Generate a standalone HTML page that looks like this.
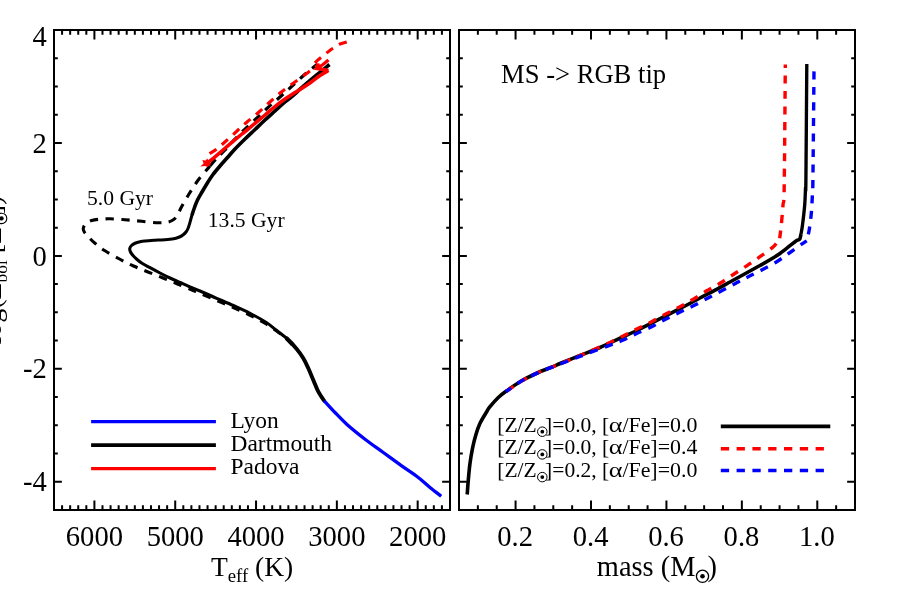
<!DOCTYPE html>
<html lang="en"><head><meta charset="utf-8"><title>Isochrones</title>
<style>html,body{margin:0;padding:0;background:#fff;}body{width:900px;height:600px;overflow:hidden;position:relative;font-family:"Liberation Serif",serif;}</style></head>
<body>
<svg width="900" height="600" viewBox="0 0 900 600" style="position:absolute;left:0;top:0;display:block;will-change:transform" font-family='"Liberation Serif", serif' fill="#000">
<rect x="0" y="0" width="900" height="600" fill="#fff"/>
<g fill="none" stroke-linejoin="round">
<path d="M324.20,400.80 C323.22,399.28 320.12,395.17 318.30,391.70 C316.48,388.23 314.97,383.90 313.30,380.00 C311.63,376.10 309.97,371.92 308.30,368.30 C306.63,364.68 305.23,361.52 303.30,358.30 C301.37,355.08 299.47,352.33 296.70,349.00 C293.93,345.67 290.32,341.60 286.70,338.30" stroke="#000" stroke-width="3.9" stroke-linecap="round"/>
<path d="M286.70,338.30 C283.08,335.00 278.33,331.80 275.00,329.20 C271.67,326.60 270.87,325.35 266.70,322.70 C262.53,320.05 255.57,316.17 250.00,313.30 C244.43,310.43 238.85,308.00 233.30,305.50 C227.75,303.00 222.25,300.72 216.70,298.30 C211.15,295.88 204.45,292.88 200.00,291.00 C195.55,289.12 193.33,288.42 190.00,287.00 C186.67,285.58 183.33,284.00 180.00,282.50 C176.67,281.00 173.33,279.58 170.00,278.00 C166.67,276.42 163.33,274.72 160.00,273.00 C156.67,271.28 153.00,269.32 150.00,267.70 C147.00,266.08 144.25,264.75 142.00,263.30 C139.75,261.85 138.00,260.30 136.50,259.00 C135.00,257.70 134.00,256.67 133.00,255.50 C132.00,254.33 131.04,253.17 130.50,252.00 C129.96,250.83 129.58,249.58 129.75,248.50 C129.92,247.42 130.62,246.38 131.50,245.50 C132.38,244.62 133.58,243.88 135.00,243.25 C136.42,242.62 138.33,242.12 140.00,241.75 C141.67,241.38 142.50,241.25 145.00,241.00 C147.50,240.75 152.50,240.42 155.00,240.25 C157.50,240.08 157.92,240.12 160.00,240.00 C162.08,239.88 165.00,239.75 167.50,239.50 C170.00,239.25 172.92,238.96 175.00,238.50 C177.08,238.04 178.58,237.42 180.00,236.75 C181.42,236.08 182.50,235.29 183.50,234.50 C184.50,233.71 185.25,233.00 186.00,232.00 C186.75,231.00 187.42,229.83 188.00,228.50 C188.58,227.17 189.04,225.50 189.50,224.00 C189.96,222.50 190.33,221.00 190.75,219.50 C191.17,218.00 191.38,217.00 192.00,215.00" stroke="#000" stroke-width="3.05" stroke-linecap="round"/>
<path d="M192.00,215.00 C192.62,213.00 193.58,210.00 194.50,207.50 C195.42,205.00 196.25,202.58 197.50,200.00 C198.75,197.42 200.25,195.00 202.00,192.00 C203.75,189.00 206.17,184.92 208.00,182.00 C209.83,179.08 211.00,177.17 213.00,174.50 C215.00,171.83 217.50,168.92 220.00,166.00 C222.50,163.08 225.50,159.83 228.00,157.00 C230.50,154.17 232.17,152.00 235.00,149.00 C237.83,146.00 241.67,142.25 245.00,139.00 C248.33,135.75 251.67,132.67 255.00,129.50 C258.33,126.33 261.67,123.08 265.00,120.00 C268.33,116.92 271.67,114.00 275.00,111.00 C278.33,108.00 281.67,104.83 285.00,102.00 C288.33,99.17 292.50,96.13 295.00,94.00 C297.50,91.87 296.38,92.37 300.00,89.20 C303.62,86.03 311.78,79.12 316.70,75.00 C321.62,70.88 327.37,66.25 329.50,64.50" stroke="#000" stroke-width="3.6"/>
<path d="M296.70,349.50 C294.47,347.28 288.30,340.40 283.30,336.20 C278.30,332.00 272.25,327.78 266.70,324.30 C261.15,320.82 255.57,318.10 250.00,315.30 C244.43,312.50 238.85,309.98 233.30,307.50 C227.75,305.02 222.25,302.75 216.70,300.40 C211.15,298.05 204.12,295.13 200.00,293.40 C195.88,291.67 195.75,291.57 192.00,290.00 C188.25,288.43 182.33,286.00 177.50,284.00 C172.67,282.00 167.92,280.00 163.00,278.00 C158.08,276.00 152.92,274.00 148.00,272.00 C143.08,270.00 138.25,268.17 133.50,266.00 C128.75,263.83 124.25,261.53 119.50,259.00 C114.75,256.47 109.08,253.42 105.00,250.80 C100.92,248.18 97.78,245.65 95.00,243.30 C92.22,240.95 90.10,238.63 88.30,236.70 C86.50,234.77 85.03,233.10 84.20,231.70 C83.37,230.30 83.03,229.63 83.30,228.30 C83.57,226.97 84.40,225.00 85.80,223.70 C87.20,222.40 89.33,221.25 91.70,220.50 C94.07,219.75 96.95,219.48 100.00,219.20 C103.05,218.92 105.83,218.72 110.00,218.80 C114.17,218.88 119.72,219.28 125.00,219.70 C130.28,220.12 136.15,220.78 141.70,221.30 C147.25,221.82 153.87,222.68 158.30,222.80 C162.73,222.92 165.65,222.60 168.30,222.00 C170.95,221.40 172.53,220.65 174.20,219.20 C175.87,217.75 177.00,215.50 178.30,213.30 C179.60,211.10 180.22,209.22 182.00,206.00 C183.78,202.78 186.42,198.17 189.00,194.00 C191.58,189.83 194.50,185.08 197.50,181.00 C200.50,176.92 204.92,172.00 207.00,169.50 C209.08,167.00 208.53,167.70 210.00,166.00" stroke="#000" stroke-width="3.1" stroke-dasharray="8.4 7.4" stroke-dashoffset="9.2"/>
<path d="M210.00,166.00 C211.47,164.30 213.47,161.80 215.80,159.30 C218.13,156.80 220.97,154.22 224.00,151.00 C227.03,147.78 230.50,143.67 234.00,140.00 C237.50,136.33 241.17,132.67 245.00,129.00 C248.83,125.33 253.17,121.58 257.00,118.00 C260.83,114.42 264.17,111.00 268.00,107.50 C271.83,104.00 276.17,100.42 280.00,97.00 C283.83,93.58 287.17,90.50 291.00,87.00 C294.83,83.50 299.00,79.50 303.00,76.00 C307.00,72.50 312.58,68.00 315.00,66.00 C317.42,64.00 317.08,64.33 317.50,64.00" stroke="#000" stroke-width="3.1" stroke-dasharray="8.6 7.1" stroke-dashoffset="0"/>
<path d="M324.20,400.80 C326.00,402.75 331.25,408.60 335.00,412.50 C338.75,416.40 341.70,419.75 346.70,424.20 C351.70,428.65 358.90,434.48 365.00,439.20 C371.10,443.92 377.18,448.07 383.30,452.50 C389.42,456.93 395.87,461.63 401.70,465.80 C407.53,469.97 413.58,473.88 418.30,477.50 C423.02,481.12 426.18,484.38 430.00,487.50 C433.82,490.62 439.33,494.75 441.20,496.20" stroke="#00f" stroke-width="3.3"/>
<path d="M206.00,164.00 C206.67,163.47 208.50,162.00 210.00,160.80 C211.50,159.60 213.33,158.17 215.00,156.80 C216.67,155.43 218.33,154.03 220.00,152.60 C221.67,151.17 222.92,150.00 225.00,148.20 C227.08,146.40 230.00,143.90 232.50,141.80 C235.00,139.70 237.92,137.28 240.00,135.60 C242.08,133.92 242.50,133.75 245.00,131.70 C247.50,129.65 251.67,126.08 255.00,123.30 C258.33,120.52 261.67,117.80 265.00,115.00 C268.33,112.20 271.67,109.17 275.00,106.50 C278.33,103.83 281.67,101.33 285.00,99.00 C288.33,96.67 290.83,95.17 295.00,92.50 C299.17,89.83 305.83,85.83 310.00,83.00 C314.17,80.17 316.92,77.58 320.00,75.50 C323.08,73.42 327.08,71.33 328.50,70.50" stroke="#f00" stroke-width="3.5"/>
<path d="M328.50,70.50 L317.00,68.50 L323.00,64.50 L328.50,60.00" stroke="#f00" stroke-width="3.3" stroke-linejoin="miter"/>
<path d="M200.3,166.4 L203.6,163.6 L202.4,159.9 L205.6,160.6 L207.3,158.4 L208.6,161.2 L211,163.9 L207.6,167 L205.2,166.1 Z" fill="#f00" stroke="none"/>
<path d="M209.50,153.50 C210.67,152.80 213.75,151.38 216.50,149.30 C219.25,147.22 222.58,144.05 226.00,141.00 C229.42,137.95 233.50,134.17 237.00,131.00 C240.50,127.83 243.33,125.17 247.00,122.00 C250.67,118.83 255.08,115.42 259.00,112.00 C262.92,108.58 266.67,104.92 270.50,101.50 C274.33,98.08 277.92,94.75 282.00,91.50 C286.08,88.25 290.67,85.17 295.00,82.00 C299.33,78.83 304.83,74.87 308.00,72.50 C311.17,70.13 313.00,68.58 314.00,67.80 L319.50,64.80 L312.50,65.30 L318.50,59.50 L331.00,49.50 L340.00,44.00 L346.80,41.90" stroke="#f00" stroke-width="3.1" stroke-dasharray="8.2 7.0" stroke-linejoin="miter"/>
</g>
<g fill="none" stroke-linejoin="miter">
<path d="M467.20,494.50 C467.38,492.08 467.83,485.20 468.30,480.00 C468.77,474.80 469.30,468.58 470.00,463.30 C470.70,458.02 471.53,453.02 472.50,448.30 C473.47,443.58 474.55,439.17 475.80,435.00 C477.05,430.83 478.18,427.18 480.00,423.30 C481.82,419.42 485.03,414.47 486.70,411.70 C488.37,408.93 488.07,409.07 490.00,406.70 C491.93,404.33 495.52,400.15 498.30,397.50 C501.08,394.85 502.80,393.58 506.70,390.80 C510.60,388.02 516.43,383.85 521.70,380.80 C526.97,377.75 532.75,375.00 538.30,372.50 C543.85,370.00 551.38,367.30 555.00,365.80 C558.62,364.30 555.83,365.22 560.00,363.50 C564.17,361.78 573.33,358.17 580.00,355.50 C586.67,352.83 593.33,350.38 600.00,347.50 C606.67,344.62 613.33,341.28 620.00,338.20 C626.67,335.12 635.00,331.40 640.00,329.00 C645.00,326.60 645.55,326.08 650.00,323.80 C654.45,321.52 660.87,318.27 666.70,315.30 C672.53,312.33 679.45,308.88 685.00,306.00 C690.55,303.12 694.72,300.78 700.00,298.00 C705.28,295.22 711.70,291.97 716.70,289.30 C721.70,286.63 726.12,284.13 730.00,282.00 C733.88,279.87 736.67,278.33 740.00,276.50 C743.33,274.67 746.67,272.83 750.00,271.00 C753.33,269.17 756.67,267.37 760.00,265.50 C763.33,263.63 766.67,261.80 770.00,259.80 C773.33,257.80 776.67,255.85 780.00,253.50 C783.33,251.15 787.33,247.80 790.00,245.70 C792.67,243.60 794.40,241.98 796.00,240.90 C797.60,239.82 798.77,240.35 799.60,239.20 C800.43,238.05 800.77,234.87 801.00,234.00" stroke="#000" stroke-width="3.6" stroke-linejoin="miter"/>
<path d="M801.00,234.00 C801.25,232.50 801.88,229.83 802.50,225.00 C803.12,220.17 804.20,211.12 804.70,205.00 C805.20,198.88 805.30,192.47 805.50,188.30 C805.70,184.13 805.68,200.72 805.90,180.00 C806.12,159.28 806.65,83.33 806.80,64.00" stroke="#000" stroke-width="3.35"/>
<path d="M505.80,391.70 C508.45,389.88 516.28,384.00 521.70,380.80 C527.12,377.60 532.75,375.00 538.30,372.50 C543.85,370.00 549.43,368.05 555.00,365.80 C560.57,363.55 566.15,361.30 571.70,359.00 C577.25,356.70 582.20,354.62 588.30,352.00 C594.40,349.38 602.18,346.13 608.30,343.30 C614.42,340.47 620.00,337.50 625.00,335.00 C630.00,332.50 633.85,330.52 638.30,328.30 C642.75,326.08 646.97,324.17 651.70,321.70 C656.43,319.23 661.98,316.00 666.70,313.50 C671.42,311.00 675.57,309.08 680.00,306.70 C684.43,304.32 688.85,301.85 693.30,299.20 C697.75,296.55 702.25,293.45 706.70,290.80 C711.15,288.15 715.57,286.02 720.00,283.30 C724.43,280.58 728.85,277.42 733.30,274.50 C737.75,271.58 742.25,268.77 746.70,265.80 C751.15,262.83 755.57,259.88 760.00,256.70 C764.43,253.52 770.02,249.77 773.30,246.70 C776.58,243.63 778.63,239.70 779.70,238.30" stroke="#f00" stroke-width="3.4" stroke-dasharray="8.3 7.5" stroke-dashoffset="-1"/>
<path d="M779.70,238.30 C779.97,236.08 780.75,230.55 781.30,225.00 C781.85,219.45 782.52,211.38 783.00,205.00 C783.48,198.62 783.82,210.12 784.20,186.70 C784.58,163.28 785.12,84.87 785.30,64.50" stroke="#f00" stroke-width="3.4" stroke-dasharray="8 7.5" stroke-dashoffset="0"/>
<path d="M505.80,391.70 C508.45,389.90 516.28,384.08 521.70,380.90 C527.12,377.72 532.75,375.08 538.30,372.60 C543.85,370.12 549.43,368.17 555.00,366.00 C560.57,363.83 566.15,361.73 571.70,359.60 C577.25,357.47 582.20,355.50 588.30,353.20 C594.40,350.90 602.47,348.00 608.30,345.80 C614.13,343.60 618.57,342.05 623.30,340.00 C628.03,337.95 631.97,335.72 636.70,333.50 C641.43,331.28 646.98,329.03 651.70,326.70 C656.42,324.37 660.42,321.87 665.00,319.50 C669.58,317.13 674.48,314.78 679.20,312.50 C683.92,310.22 688.58,308.17 693.30,305.80 C698.02,303.43 702.77,300.80 707.50,298.30 C712.23,295.80 716.98,293.30 721.70,290.80 C726.42,288.30 731.37,285.65 735.80,283.30 C740.23,280.95 743.98,278.92 748.30,276.70 C752.62,274.48 756.97,272.50 761.70,270.00 C766.43,267.50 771.98,264.62 776.70,261.70 C781.42,258.78 785.83,255.42 790.00,252.50 C794.17,249.58 798.92,246.15 801.70,244.20 C804.48,242.25 805.87,241.37 806.70,240.80" stroke="#00f" stroke-width="3.4" stroke-dasharray="8.3 7.5" stroke-dashoffset="1.7"/>
<path d="M806.70,240.80 C807.12,239.00 808.43,234.58 809.20,230.00 C809.97,225.42 810.78,218.85 811.30,213.30 C811.82,207.75 812.03,202.25 812.30,196.70 C812.57,191.15 812.62,201.03 812.90,180.00 C813.18,158.97 813.82,88.75 814.00,70.50" stroke="#00f" stroke-width="3.4" stroke-dasharray="8 7.5" stroke-dashoffset="8.7"/>
</g>
<g fill="none">
<path d="M91.1,421.55 H215.9" stroke="#00f" stroke-width="3.3"/>
<path d="M91.1,445.15 H215.9" stroke="#000" stroke-width="3.6"/>
<path d="M91.1,468.6 H215.9" stroke="#f00" stroke-width="3.2"/>
<path d="M720.8,426.3 H830.3" stroke="#000" stroke-width="3.7"/>
<path d="M720.8,448.7 H830.3" stroke="#f00" stroke-width="3.4" stroke-dasharray="8.3 7.5"/>
<path d="M720.8,470.5 H830.3" stroke="#00f" stroke-width="3.4" stroke-dasharray="8.3 7.5"/>
</g>
<g fill="none" stroke="#000" stroke-width="2.00" stroke-linecap="butt">
<rect x="54.00" y="30.00" width="396.00" height="480.00"/>
<rect x="459.00" y="30.00" width="396.00" height="480.00"/>
<path d="M417.67,30.00 v9.50 M417.67,510.00 v-9.50 M336.86,30.00 v9.50 M336.86,510.00 v-9.50 M256.04,30.00 v9.50 M256.04,510.00 v-9.50 M175.22,30.00 v9.50 M175.22,510.00 v-9.50 M94.41,30.00 v9.50 M94.41,510.00 v-9.50 M441.92,30.00 v4.70 M441.92,510.00 v-4.70 M433.84,30.00 v4.70 M433.84,510.00 v-4.70 M425.76,30.00 v4.70 M425.76,510.00 v-4.70 M409.59,30.00 v4.70 M409.59,510.00 v-4.70 M401.51,30.00 v4.70 M401.51,510.00 v-4.70 M393.43,30.00 v4.70 M393.43,510.00 v-4.70 M385.35,30.00 v4.70 M385.35,510.00 v-4.70 M377.27,30.00 v4.70 M377.27,510.00 v-4.70 M369.18,30.00 v4.70 M369.18,510.00 v-4.70 M361.10,30.00 v4.70 M361.10,510.00 v-4.70 M353.02,30.00 v4.70 M353.02,510.00 v-4.70 M344.94,30.00 v4.70 M344.94,510.00 v-4.70 M328.78,30.00 v4.70 M328.78,510.00 v-4.70 M320.69,30.00 v4.70 M320.69,510.00 v-4.70 M312.61,30.00 v4.70 M312.61,510.00 v-4.70 M304.53,30.00 v4.70 M304.53,510.00 v-4.70 M296.45,30.00 v4.70 M296.45,510.00 v-4.70 M288.37,30.00 v4.70 M288.37,510.00 v-4.70 M280.29,30.00 v4.70 M280.29,510.00 v-4.70 M272.20,30.00 v4.70 M272.20,510.00 v-4.70 M264.12,30.00 v4.70 M264.12,510.00 v-4.70 M247.96,30.00 v4.70 M247.96,510.00 v-4.70 M239.88,30.00 v4.70 M239.88,510.00 v-4.70 M231.80,30.00 v4.70 M231.80,510.00 v-4.70 M223.71,30.00 v4.70 M223.71,510.00 v-4.70 M215.63,30.00 v4.70 M215.63,510.00 v-4.70 M207.55,30.00 v4.70 M207.55,510.00 v-4.70 M199.47,30.00 v4.70 M199.47,510.00 v-4.70 M191.39,30.00 v4.70 M191.39,510.00 v-4.70 M183.31,30.00 v4.70 M183.31,510.00 v-4.70 M167.14,30.00 v4.70 M167.14,510.00 v-4.70 M159.06,30.00 v4.70 M159.06,510.00 v-4.70 M150.98,30.00 v4.70 M150.98,510.00 v-4.70 M142.90,30.00 v4.70 M142.90,510.00 v-4.70 M134.82,30.00 v4.70 M134.82,510.00 v-4.70 M126.73,30.00 v4.70 M126.73,510.00 v-4.70 M118.65,30.00 v4.70 M118.65,510.00 v-4.70 M110.57,30.00 v4.70 M110.57,510.00 v-4.70 M102.49,30.00 v4.70 M102.49,510.00 v-4.70 M86.33,30.00 v4.70 M86.33,510.00 v-4.70 M78.24,30.00 v4.70 M78.24,510.00 v-4.70 M70.16,30.00 v4.70 M70.16,510.00 v-4.70 M62.08,30.00 v4.70 M62.08,510.00 v-4.70 M515.57,30.00 v9.50 M515.57,510.00 v-9.50 M591.00,30.00 v9.50 M591.00,510.00 v-9.50 M666.43,30.00 v9.50 M666.43,510.00 v-9.50 M741.86,30.00 v9.50 M741.86,510.00 v-9.50 M817.29,30.00 v9.50 M817.29,510.00 v-9.50 M477.86,30.00 v4.70 M477.86,510.00 v-4.70 M496.71,30.00 v4.70 M496.71,510.00 v-4.70 M534.43,30.00 v4.70 M534.43,510.00 v-4.70 M553.29,30.00 v4.70 M553.29,510.00 v-4.70 M572.14,30.00 v4.70 M572.14,510.00 v-4.70 M609.86,30.00 v4.70 M609.86,510.00 v-4.70 M628.71,30.00 v4.70 M628.71,510.00 v-4.70 M647.57,30.00 v4.70 M647.57,510.00 v-4.70 M685.29,30.00 v4.70 M685.29,510.00 v-4.70 M704.14,30.00 v4.70 M704.14,510.00 v-4.70 M723.00,30.00 v4.70 M723.00,510.00 v-4.70 M760.71,30.00 v4.70 M760.71,510.00 v-4.70 M779.57,30.00 v4.70 M779.57,510.00 v-4.70 M798.43,30.00 v4.70 M798.43,510.00 v-4.70 M836.14,30.00 v4.70 M836.14,510.00 v-4.70 M54.00,142.94 h7.85 M450.00,142.94 h-7.85 M54.00,255.88 h7.85 M450.00,255.88 h-7.85 M54.00,368.82 h7.85 M450.00,368.82 h-7.85 M54.00,481.76 h7.85 M450.00,481.76 h-7.85 M54.00,453.53 h3.80 M450.00,453.53 h-3.80 M54.00,425.29 h3.80 M450.00,425.29 h-3.80 M54.00,397.06 h3.80 M450.00,397.06 h-3.80 M54.00,340.59 h3.80 M450.00,340.59 h-3.80 M54.00,312.35 h3.80 M450.00,312.35 h-3.80 M54.00,284.12 h3.80 M450.00,284.12 h-3.80 M54.00,227.65 h3.80 M450.00,227.65 h-3.80 M54.00,199.41 h3.80 M450.00,199.41 h-3.80 M54.00,171.18 h3.80 M450.00,171.18 h-3.80 M54.00,114.71 h3.80 M450.00,114.71 h-3.80 M54.00,86.47 h3.80 M450.00,86.47 h-3.80 M54.00,58.24 h3.80 M450.00,58.24 h-3.80 M459.00,142.94 h7.85 M855.00,142.94 h-7.85 M459.00,255.88 h7.85 M855.00,255.88 h-7.85 M459.00,368.82 h7.85 M855.00,368.82 h-7.85 M459.00,481.76 h7.85 M855.00,481.76 h-7.85 M459.00,453.53 h3.80 M855.00,453.53 h-3.80 M459.00,425.29 h3.80 M855.00,425.29 h-3.80 M459.00,397.06 h3.80 M855.00,397.06 h-3.80 M459.00,340.59 h3.80 M855.00,340.59 h-3.80 M459.00,312.35 h3.80 M855.00,312.35 h-3.80 M459.00,284.12 h3.80 M855.00,284.12 h-3.80 M459.00,227.65 h3.80 M855.00,227.65 h-3.80 M459.00,199.41 h3.80 M855.00,199.41 h-3.80 M459.00,171.18 h3.80 M855.00,171.18 h-3.80 M459.00,114.71 h3.80 M855.00,114.71 h-3.80 M459.00,86.47 h3.80 M855.00,86.47 h-3.80 M459.00,58.24 h3.80 M855.00,58.24 h-3.80" stroke-width="2.00"/>
</g>
<g font-size="28.60" text-anchor="middle">
<text transform="translate(94.41,546.2) scale(1,1.04)">6000</text>
<text transform="translate(175.22,546.2) scale(1,1.04)">5000</text>
<text transform="translate(256.04,546.2) scale(1,1.04)">4000</text>
<text transform="translate(336.86,546.2) scale(1,1.04)">3000</text>
<text transform="translate(417.67,546.2) scale(1,1.04)">2000</text>
<text transform="translate(515.17,546.2) scale(1,1.04)">0.2</text>
<text transform="translate(590.60,546.2) scale(1,1.04)">0.4</text>
<text transform="translate(666.03,546.2) scale(1,1.04)">0.6</text>
<text transform="translate(741.46,546.2) scale(1,1.04)">0.8</text>
<text transform="translate(816.89,546.2) scale(1,1.04)">1.0</text>
</g>
<g font-size="28.60" text-anchor="end">
<text x="46.8" y="46.2">4</text>
<text x="46.8" y="152.64">2</text>
<text x="46.8" y="265.58">0</text>
<text x="46.8" y="378.32">-2</text>
<text x="46.8" y="491.26">-4</text>
</g>
<text x="211" y="575.8" font-size="27.5">T<tspan font-size="18.7" dy="5.9">eff</tspan><tspan dy="-5.9" font-size="27.5"> (K)</tspan></text>
<text x="596.8" y="576.0" font-size="28.4">mass (M<tspan dx="12.0">)</tspan></text>
<circle cx="702.50" cy="576.30" r="6.10" fill="none" stroke="#000" stroke-width="1.30"/><circle cx="702.50" cy="576.30" r="2.30" fill="#000"/>
<g transform="translate(1.2,344.6) rotate(-90)"><text x="0" y="0" font-size="28.00">log(L<tspan font-size="17.36" dy="5.8">bol</tspan><tspan dy="-5.8"> [L</tspan><tspan dx="12.5">])</tspan></text></g>
<circle cx="1.60" cy="218.40" r="5.20" fill="none" stroke="#000" stroke-width="1.10"/><circle cx="1.60" cy="218.40" r="2.10" fill="#000"/>
<text x="87" y="204.5" font-size="21.6">5.0 Gyr</text>
<text x="207.8" y="227" font-size="21.6">13.5 Gyr</text>
<text x="501.1" y="83.1" font-size="26.6">MS -&gt; RGB tip</text>
<g font-size="23.45">
<text x="230.5" y="427.6">Lyon</text>
<text x="230.5" y="450.8">Dartmouth</text>
<text x="230.5" y="473.9">Padova</text>
</g>
<g font-size="21.50">
<text x="497.25" y="431.70">[Z/Z</text>
<text x="545.1" y="431.70">]=0.0, [</text>
<text transform="translate(608.8,431.70) scale(1.22,1)" x="0" y="0">α</text>
<text x="622.4" y="431.70" font-size="21.9">/Fe]=0.0</text>
</g>
<circle cx="542.30" cy="431.70" r="4.75" fill="none" stroke="#000" stroke-width="1.00"/><circle cx="542.30" cy="431.70" r="1.90" fill="#000"/>
<g font-size="21.50">
<text x="497.25" y="454.40">[Z/Z</text>
<text x="545.1" y="454.40">]=0.0, [</text>
<text transform="translate(608.8,454.40) scale(1.22,1)" x="0" y="0">α</text>
<text x="622.4" y="454.40" font-size="21.9">/Fe]=0.4</text>
</g>
<circle cx="542.30" cy="454.40" r="4.75" fill="none" stroke="#000" stroke-width="1.00"/><circle cx="542.30" cy="454.40" r="1.90" fill="#000"/>
<g font-size="21.50">
<text x="497.25" y="477.10">[Z/Z</text>
<text x="545.1" y="477.10">]=0.2, [</text>
<text transform="translate(608.8,477.10) scale(1.22,1)" x="0" y="0">α</text>
<text x="622.4" y="477.10" font-size="21.9">/Fe]=0.0</text>
</g>
<circle cx="542.30" cy="477.10" r="4.75" fill="none" stroke="#000" stroke-width="1.00"/><circle cx="542.30" cy="477.10" r="1.90" fill="#000"/>
</svg>
</body></html>
